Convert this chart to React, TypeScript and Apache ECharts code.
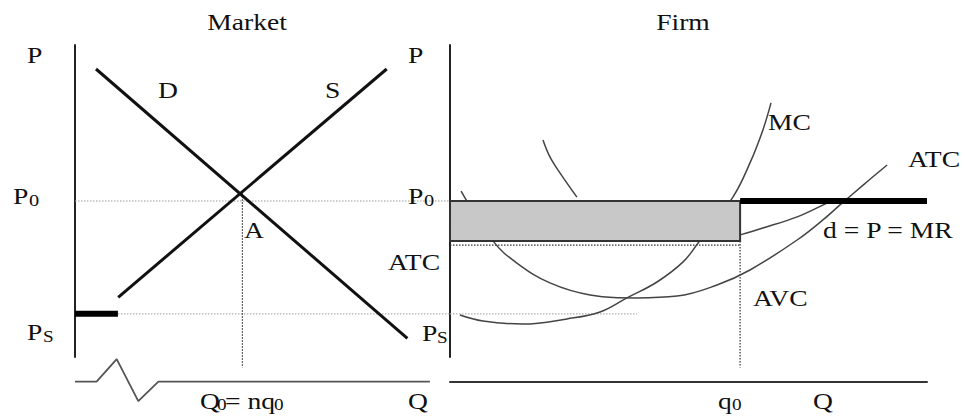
import React, { useEffect, useRef } from "react";
import * as echarts from "echarts";

// ---- data (Q on x, P on y) ----
const P0 = 52;
const PS = 14.4;
const ATC_AT_Q0 = 38.7;
const ATC_DOTTED = 37.3;
const MARKET_Q0 = 55.8;
const FIRM_Q0 = 96.7;
const DROP_END = -3.5;

const demandLine = [[7, 96], [110.8, 6.2]];
const supplyLine = [[14.4, 19.9], [103.9, 96]];
const marketBreakAxis = [[0, -8.2], [7.2, -8.2], [13.9, -0.7], [21.1, -14.7], [27.8, -8.2], [118.3, -8.2]];
const shutdownSegment = [[0, 14.4], [14.3, 14.4]];

const mcCurve = [[3.3, 14], [11, 12], [24.3, 11], [39, 12.7], [50, 15], [59, 19.7], [69, 25], [77.7, 31.7], [82.7, 38], [94.3, 53.3], [100, 64.7], [104.3, 75.7], [107, 84.7]];
const avcCurve = [[3.7, 55.3], [14.3, 38.7], [22.3, 31.3], [33.3, 24.7], [46.7, 20.7], [62.3, 19.7], [75.7, 20.3], [89, 24], [100, 29], [115.7, 39], [124.3, 45.7], [130, 50.7], [137.7, 57.3], [145.7, 64]];
const atcLeftArm = [[31, 72.3], [33.3, 66.7], [36.7, 61.3], [42.3, 53.3]];
const atcRightArm = [[96.7, 40.7], [104.3, 43], [115.7, 46.7], [125.7, 51.3], [128, 52.2]];
const profitBox = [[0, FIRM_Q0, ATC_AT_Q0, P0]];
const mrLine = [[FIRM_Q0, P0], [159, P0]];

const FONT = '"Liberation Serif", "Times New Roman", serif';
const SX = 1.2;

function label(text: string, x: number, y: number, size = 23, align = "left") {
  return {
    type: "text",
    x,
    y,
    scaleX: SX,
    z: 100,
    style: {
      text,
      fill: "#111",
      font: `${size}px ${FONT}`,
      align,
      verticalAlign: "middle",
      textAlign: align,
      textVerticalAlign: "middle",
    },
  };
}

function seg(data: any[], idx: number, color: string, width: number, type: any = "solid", z = 2, smooth: any = false) {
  return {
    type: "line",
    xAxisIndex: idx,
    yAxisIndex: idx,
    data,
    symbol: "none",
    showSymbol: false,
    smooth,
    clip: false,
    silent: true,
    z,
    lineStyle: { color, width, type, cap: "butt" },
  };
}

export default function App() {
  const ref = useRef<HTMLDivElement>(null);
  useEffect(() => {
    document.body.style.margin = "0";
    const chart = echarts.init(ref.current!, null, { renderer: "svg" });
    const hiddenX = (gridIndex: number, max: number, showLine: boolean, offset = 0) => ({
      type: "value",
      gridIndex,
      min: 0,
      max,
      offset,
      axisLine: { show: showLine, onZero: false, lineStyle: { color: "#333", width: 2 } },
      axisTick: { show: false },
      axisLabel: { show: false },
      splitLine: { show: false },
    });
    const yAx = (gridIndex: number) => ({
      type: "value",
      gridIndex,
      min: 0,
      max: 104,
      axisLine: { show: true, onZero: false, lineStyle: { color: "#222", width: 2 } },
      axisTick: { show: false },
      axisLabel: { show: false },
      splitLine: { show: false },
    });
    const dotGray = [1.5, 1.5];
    const option: any = {
      animation: false,
      backgroundColor: "#fff",
      grid: [
        { left: 75, top: 45, width: 375, height: 312 },
        { left: 450, top: 45, width: 477, height: 312 },
      ],
      xAxis: [hiddenX(0, 125, false), hiddenX(1, 159, true, 25)],
      yAxis: [yAx(0), yAx(1)],
      series: [
        // market
        seg([[0, P0], [125, P0]], 0, "#9a9a9a", 1.2, dotGray, 1),
        seg([[14.3, PS], [125, PS]], 0, "#b0b0b0", 1.2, dotGray, 1),
        seg([[MARKET_Q0, 54.6], [MARKET_Q0, DROP_END]], 0, "#333", 1.2, dotGray, 1),
        seg(demandLine, 0, "#111", 3, "solid", 3),
        seg(supplyLine, 0, "#111", 3, "solid", 3),
        seg(shutdownSegment, 0, "#000", 6, "solid", 4),
        seg(marketBreakAxis, 0, "#555", 1.8, "solid", 2),
        // firm
        seg([[0, PS], [62.3, PS]], 1, "#b0b0b0", 1.2, dotGray, 1),
        seg([[0, ATC_DOTTED], [FIRM_Q0, ATC_DOTTED]], 1, "#333", 1.2, dotGray, 1),
        seg([[FIRM_Q0, ATC_AT_Q0], [FIRM_Q0, DROP_END]], 1, "#333", 1.2, dotGray, 1),
        seg(mcCurve, 1, "#444", 1.5, "solid", 2, 0.4),
        seg(avcCurve, 1, "#444", 1.5, "solid", 2, 0.4),
        seg(atcLeftArm, 1, "#444", 1.5, "solid", 2, 0.4),
        seg(atcRightArm, 1, "#444", 1.5, "solid", 2, 0.4),
        {
          type: "custom",
          xAxisIndex: 1,
          yAxisIndex: 1,
          z: 5,
          silent: true,
          clip: false,
          data: profitBox,
          renderItem: (params: any, api: any) => {
            const a = api.coord([api.value(0), api.value(3)]);
            const b = api.coord([api.value(1), api.value(2)]);
            return {
              type: "rect",
              shape: { x: a[0], y: a[1], width: b[0] - a[0], height: b[1] - a[1] },
              style: { fill: "#c8c8c8", stroke: "#333", lineWidth: 2 },
            };
          },
        },
        seg(mrLine, 1, "#000", 6, "solid", 6),
      ],
      graphic: [
        label("Market", 247, 22, 23, "center"),
        label("Firm", 683, 22, 23, "center"),
        label("P", 27, 55),
        label("P", 408, 55),
        label("D", 158, 90),
        label("S", 325, 90),
        label("P", 13, 196),
        label("0", 29, 200, 17),
        label("P", 408, 196),
        label("0", 424, 200, 17),
        label("A", 244, 230),
        label("ATC", 388, 262),
        label("P", 27, 332),
        label("S", 43, 337, 16),
        label("P", 422, 333),
        label("S", 437, 338, 16),
        label("Q", 200, 401),
        label("0", 217, 405, 16),
        label("= nq", 225, 401),
        label("0", 274, 405, 16),
        label("Q", 408, 401),
        label("MC", 768, 122),
        label("ATC", 908, 159),
        label("d = P = MR", 823, 230),
        label("AVC", 753, 298),
        label("q", 718, 401),
        label("0", 732, 405, 16),
        label("Q", 813, 401),
      ],
    };
    chart.setOption(option);
    return () => chart.dispose();
  }, []);
  return <div ref={ref} style={{ width: 965, height: 420 }} />;
}
